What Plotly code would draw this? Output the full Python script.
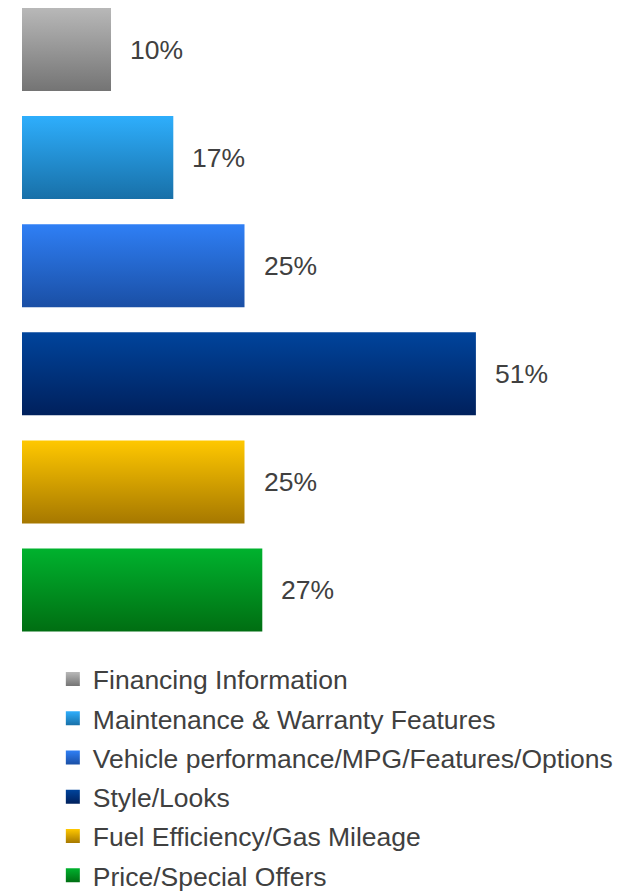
import plotly.graph_objects as go

# Survey categories, listed top to bottom
categories = [
    "Financing Information",
    "Maintenance & Warranty Features",
    "Vehicle performance/MPG/Features/Options",
    "Style/Looks",
    "Fuel Efficiency/Gas Mileage",
    "Price/Special Offers",
]
percentages = [10, 17, 25, 51, 25, 27]

# Gradient colours for each bar (top shade, bottom shade)
top_colors = ["#b8b8b8", "#2eaefc", "#2f7ff5", "#00449c", "#ffc800", "#00b22e"]
bottom_colors = ["#747474", "#1870a8", "#1a4fa5", "#00205c", "#a67800", "#006e12"]

FONT = "Liberation Sans, Arial, sans-serif"
TEXT_COLOR = "#404040"
HALF = 0.384  # half the bar thickness in category units

fig = go.Figure()
n = len(categories)
for i, (name, val, c_top, c_bot) in enumerate(zip(categories, percentages, top_colors, bottom_colors)):
    pos = n - 1 - i
    # bar body as a closed polygon with a vertical gradient fill
    fig.add_trace(go.Scatter(
        x=[0, val, val, 0, 0],
        y=[pos - HALF, pos - HALF, pos + HALF, pos + HALF, pos - HALF],
        mode="lines",
        line=dict(width=0),
        fill="toself",
        fillgradient=dict(type="vertical", colorscale=[[0, c_bot], [1, c_top]]),
        hoverinfo="skip",
        showlegend=False,
    ))
    fig.add_annotation(
        x=val, y=pos, text=f"{val}%", showarrow=False,
        xanchor="left", xshift=17,
        font=dict(family=FONT, size=26.5, color=TEXT_COLOR),
    )

# legend entries: small squares with the same gradient
for name, c_top, c_bot in zip(categories, top_colors, bottom_colors):
    fig.add_trace(go.Scatter(
        x=[None], y=[None], mode="markers", name=name,
        marker=dict(symbol="square", size=14, color=c_top,
                    gradient=dict(type="vertical", color=c_bot),
                    line=dict(width=0)),
        legendgroup=name,
    ))

fig.update_layout(
    width=629, height=891,
    margin=dict(l=22, r=73, t=0, b=251, autoexpand=False),
    paper_bgcolor="white", plot_bgcolor="white",
    xaxis=dict(range=[0, 60], visible=False, fixedrange=True),
    yaxis=dict(range=[-0.4625, 5.458], visible=False, fixedrange=True),
    showlegend=True,
    legend=dict(
        xref="container", yref="container",
        x=0.084, y=0.2645, xanchor="left", yanchor="top",
        font=dict(family=FONT, size=26.5, color=TEXT_COLOR),
        tracegroupgap=1.8, itemsizing="trace",
        bgcolor="rgba(0,0,0,0)",
    ),
)

fig.write_html("out.html")
